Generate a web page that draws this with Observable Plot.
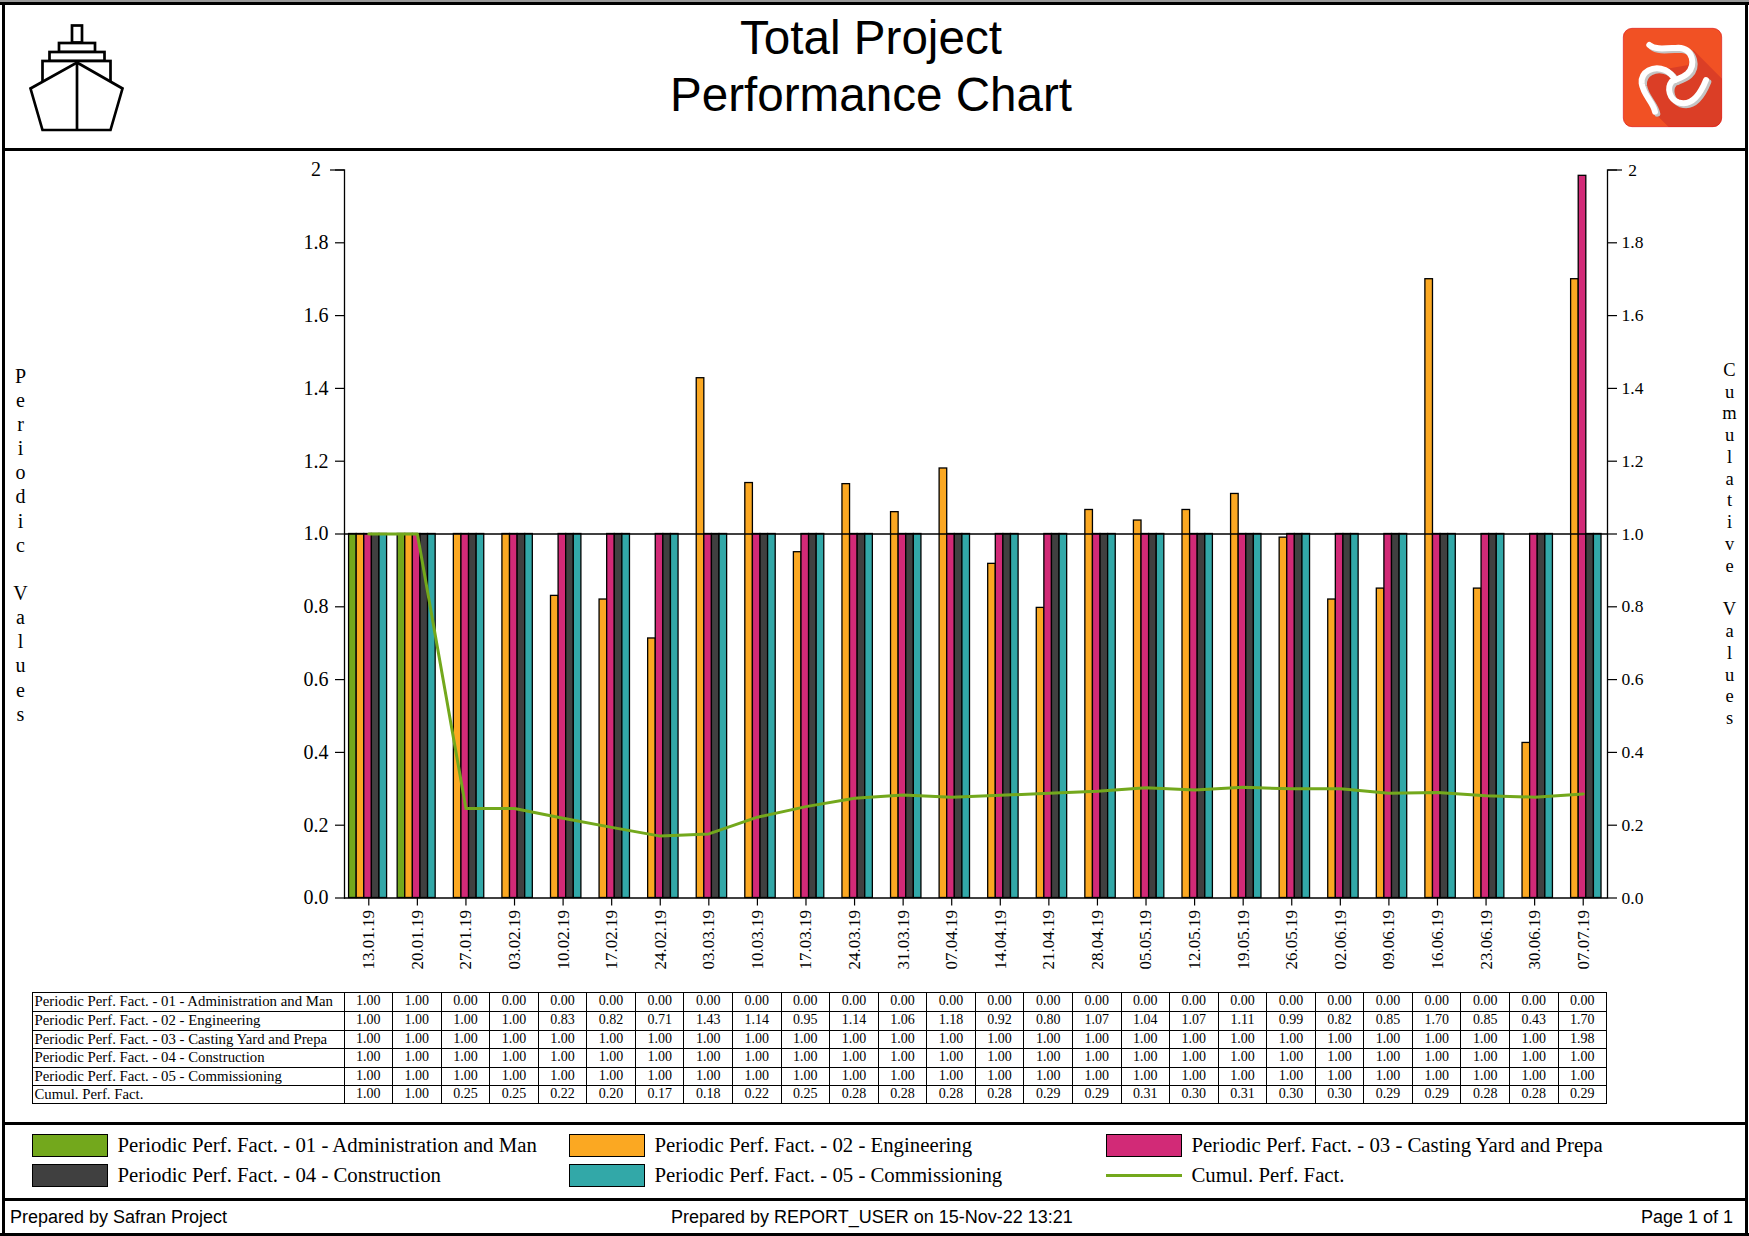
<!DOCTYPE html>
<html>
<head>
<meta charset="utf-8">
<script src="https://cdn.jsdelivr.net/npm/d3@7"></script>
<script src="https://cdn.jsdelivr.net/npm/@observablehq/plot@0.6"></script>
<style>
html,body{margin:0;padding:0;background:#fff;}
#page{position:relative;width:1749px;height:1236px;overflow:hidden;background:#fff;color:#000;font-family:"Liberation Serif",serif;}
.ln{position:absolute;background:#000;}
.abs{position:absolute;white-space:pre;}
.sans{font-family:"Liberation Sans",sans-serif;}
#table{position:absolute;left:32.5px;top:991.5px;display:grid;grid-template-columns:312px repeat(26,48.577px);grid-template-rows:19px 19px 18px 19px 18.6px 18px;border-top:1px solid #000;border-left:1px solid #000;box-sizing:content-box;font-size:14px;margin-left:-1px;}
#table div{border-right:1px solid #000;border-bottom:1px solid #000;box-sizing:border-box;text-align:center;line-height:16.6px;white-space:nowrap;overflow:hidden;}
#table div.lab{text-align:left;padding-left:2px;font-size:14.8px;}
.sw{position:absolute;box-sizing:border-box;border:1px solid #000;width:76px;height:23px;}
#chart{position:absolute;left:0;top:150px;}
</style>
</head>
<body>
<div id="page">
  <div class="ln" style="left:0;top:0;width:1749px;height:2px;background:#999"></div>
  <div class="ln" style="left:0;top:2px;width:1749px;height:3px"></div>
  <div class="ln" style="left:2px;top:2px;width:3px;height:1234px"></div>
  <div class="ln" style="left:1745px;top:2px;width:3px;height:1234px"></div>
  <div class="ln" style="left:2px;top:148px;width:1746px;height:3px"></div>
  <div class="ln" style="left:2px;top:1122px;width:1746px;height:3px"></div>
  <div class="ln" style="left:2px;top:1198px;width:1746px;height:3px"></div>
  <div class="ln" style="left:0;top:1233px;width:1749px;height:3px"></div>

  <svg class="abs" style="left:0;top:0" width="140" height="148" viewBox="0 0 140 148">
    <g fill="#fff" stroke="#000" stroke-width="2.7">
      <rect x="72" y="25.5" width="10" height="17"/>
      <rect x="59" y="43" width="36" height="9"/>
      <rect x="49.5" y="52" width="55" height="9"/>
      <rect x="42.5" y="61" width="68" height="24"/>
      <path d="M77 62.5 L122.5 88.5 L110.5 130 L42.5 130 L30.5 88.5 Z" stroke-linejoin="miter"/>
      <path d="M77 62.5 V130" />
    </g>
  </svg>

  <div class="abs sans" id="title" style="left:0;width:1742px;top:9px;text-align:center;font-size:47.6px;line-height:57px;">Total Project
Performance Chart</div>

  <svg class="abs" style="left:1610px;top:15px" width="125" height="125" viewBox="0 0 375 375">
    <defs><clipPath id="lc"><rect x="40" y="40" width="295" height="295" rx="26"/></clipPath></defs>
    <rect x="40" y="40" width="295" height="295" rx="26" fill="#F15124"/>
    <path clip-path="url(#lc)" d="M250 105 L340 195 V340 H180 L125 285 L100 210 L120 160 L180 160 L235 150 Z" fill="#DB3E26"/>
    <rect x="40" y="40" width="295" height="295" rx="26" fill="none" stroke="#E01818" stroke-width="2"/>
    <g fill="none" stroke-linecap="round" stroke-linejoin="round">
      <g stroke="#c4c4c4" stroke-width="18" transform="translate(7,6)">
        <path d="M118 90 C135 105 165 100 205 98 C250 100 258 150 232 176 C215 192 195 192 185 200 C170 220 178 252 205 262 C245 275 270 240 288 195"/>
        <path d="M135 290 C130 262 100 240 95 205 C92 170 130 150 165 165 C182 173 190 185 195 195"/>
      </g>
      <g stroke="#fff" stroke-width="18">
        <path d="M118 90 C135 105 165 100 205 98 C250 100 258 150 232 176 C215 192 195 192 185 200 C170 220 178 252 205 262 C245 275 270 240 288 195"/>
        <path d="M135 290 C130 262 100 240 95 205 C92 170 130 150 165 165 C182 173 190 185 195 195"/>
      </g>
    </g>
  </svg>

  <div id="chart"></div>
  <div id="table"></div>
  <div id="legend"></div>

  <div class="abs sans" style="left:10px;top:1206px;font-size:18px;line-height:22px;">Prepared by Safran Project</div>
  <div class="abs sans" style="left:671px;top:1206px;font-size:18px;line-height:22px;">Prepared by REPORT_USER on 15-Nov-22 13:21</div>
  <div class="abs sans" style="left:1641px;top:1206px;font-size:18px;line-height:22px;">Page 1 of 1</div>
</div>

<script>
const dates = ["13.01.19","20.01.19","27.01.19","03.02.19","10.02.19","17.02.19","24.02.19","03.03.19","10.03.19","17.03.19","24.03.19","31.03.19","07.04.19","14.04.19","21.04.19","28.04.19","05.05.19","12.05.19","19.05.19","26.05.19","02.06.19","09.06.19","16.06.19","23.06.19","30.06.19","07.07.19"];
const admin =        [1,1,0,0,0,0,0,0,0,0,0,0,0,0,0,0,0,0,0,0,0,0,0,0,0,0];
const engineering =  [1,1,1,1,0.83,0.82,0.713,1.428,1.14,0.95,1.137,1.06,1.18,0.918,0.797,1.066,1.037,1.066,1.11,0.99,0.82,0.85,1.70,0.85,0.426,1.70];
const casting =      [1,1,1,1,1,1,1,1,1,1,1,1,1,1,1,1,1,1,1,1,1,1,1,1,1,1.984];
const construction = [1,1,1,1,1,1,1,1,1,1,1,1,1,1,1,1,1,1,1,1,1,1,1,1,1,1];
const commissioning =[1,1,1,1,1,1,1,1,1,1,1,1,1,1,1,1,1,1,1,1,1,1,1,1,1,1];
const cumulativeLine =[1,1,0.246,0.246,0.219,0.194,0.170,0.176,0.222,0.251,0.274,0.283,0.277,0.282,0.288,0.293,0.303,0.297,0.304,0.300,0.300,0.288,0.290,0.281,0.277,0.286];
const cumulativeText =["1.00","1.00","0.25","0.25","0.22","0.20","0.17","0.18","0.22","0.25","0.28","0.28","0.28","0.28","0.29","0.29","0.31","0.30","0.31","0.30","0.30","0.29","0.29","0.28","0.28","0.29"];
const seriesNames = ["Periodic Perf. Fact. - 01 - Administration and Man","Periodic Perf. Fact. - 02 - Engineering","Periodic Perf. Fact. - 03 - Casting Yard and Prepa","Periodic Perf. Fact. - 04 - Construction","Periodic Perf. Fact. - 05 - Commissioning"];
const cumulName = "Cumul. Perf. Fact.";
const seriesValues = [admin,engineering,casting,construction,commissioning];
const seriesColors = ["#73A81C","#FBA822","#D22A77","#404040","#32A8A8"];
const yTicks = [0,0.2,0.4,0.6,0.8,1,1.2,1.4,1.6,1.8,2];
const yFmt = d => d === 2 ? "2" : d.toFixed(1);

const barW = 7.6, stepW = 1263/26, inset = (stepW - barW)/2;
const barMarks = seriesValues.map((vals,k) => Plot.barY(dates.map((d,i)=>({date:d,v:vals[i]})), {
  x:"date", y:"v", fill:seriesColors[k], stroke:"#000", strokeWidth:1.3,
  insetLeft:inset, insetRight:inset, dx:(k-2)*barW - 0.7
}));

const chart = Plot.plot({
  width:1749, height:830,
  marginLeft:344, marginRight:142, marginTop:19.5, marginBottom:82.5,
  style:{fontFamily:"Liberation Serif, serif", color:"#000", background:"transparent", overflow:"visible"},
  x:{type:"band", domain:dates, paddingInner:0, paddingOuter:0, round:false, label:null},
  y:{domain:[0,2], label:null},
  marks:[
    ...barMarks,
    Plot.ruleY([0,1],{stroke:"#000",strokeWidth:1.3}),
    Plot.frame({anchor:"left",stroke:"#000",strokeWidth:1.3}),
    Plot.frame({anchor:"right",stroke:"#000",strokeWidth:1.3}),
    Plot.axisX({anchor:"bottom",tickRotate:-90,tickSize:8,tickPadding:4,fontSize:17,label:null,stroke:"#000",strokeWidth:1.2}),
    Plot.axisY({anchor:"left",ticks:yTicks,tickSize:9,tickPadding:19.5,tickFormat:yFmt,textAnchor:"middle",fontSize:20,label:null,strokeWidth:1.2}),
    Plot.axisY({anchor:"left",ticks:[2],tickSize:14,tickFormat:()=>"",label:null,strokeWidth:1.2}),
    Plot.axisY({anchor:"right",ticks:yTicks,tickSize:9,tickPadding:16,tickFormat:yFmt,textAnchor:"middle",fontSize:17.5,label:null,strokeWidth:1.2}),
    Plot.axisY({anchor:"right",ticks:[2],tickSize:14,tickFormat:()=>"",label:null,strokeWidth:1.2}),
    Plot.lineY(dates.map((d,i)=>({date:d,v:cumulativeLine[i]})),{x:"date",y:"v",stroke:seriesColors[0],strokeWidth:3}),
    Plot.text(["Periodic Values".split("").join("\n")],{frameAnchor:"left",dx:20-344,dy:10,textAnchor:"middle",fontSize:20,lineHeight:1.207,fill:"#000"}),
    Plot.text(["Cumulative Values".split("").join("\n")],{frameAnchor:"right",dx:122,dy:9,textAnchor:"middle",fontSize:18.5,lineHeight:1.177,fill:"#000"})
  ]
});
document.getElementById("chart").appendChild(chart);

// data table
const table = document.getElementById("table");
const addCell = (t,cls) => { const c=document.createElement("div"); c.textContent=t; if(cls) c.className=cls; table.appendChild(c); };
seriesNames.forEach((n,k)=>{ addCell(n,"lab"); seriesValues[k].forEach(v=>addCell(v.toFixed(2))); });
addCell(cumulName,"lab"); cumulativeText.forEach(t=>addCell(t));

// legend
const legend = document.getElementById("legend");
const legendCols = [32,569,1106], legendRows = [1134,1164];
const legendText = 20.8;
const addAbs = (html,style,cls) => { const e=document.createElement("div"); if(cls) e.className=cls; e.textContent=html; Object.assign(e.style,style); legend.appendChild(e); };
[...seriesNames,cumulName].forEach((n,i)=>{
  const col = i%3, row = Math.floor(i/3), x = legendCols[col], y = legendRows[row];
  if(i<5) addAbs("",{left:x+"px",top:y+"px",background:seriesColors[i]},"sw");
  else addAbs("",{position:"absolute",left:x+"px",top:(y+9.5)+"px",width:"76px",height:"3px",background:seriesColors[0]});
  addAbs(n,{left:(x+85.5)+"px",top:(y-1)+"px",fontSize:legendText+"px",lineHeight:"24px"},"abs");
});
</script>
</body>
</html>
